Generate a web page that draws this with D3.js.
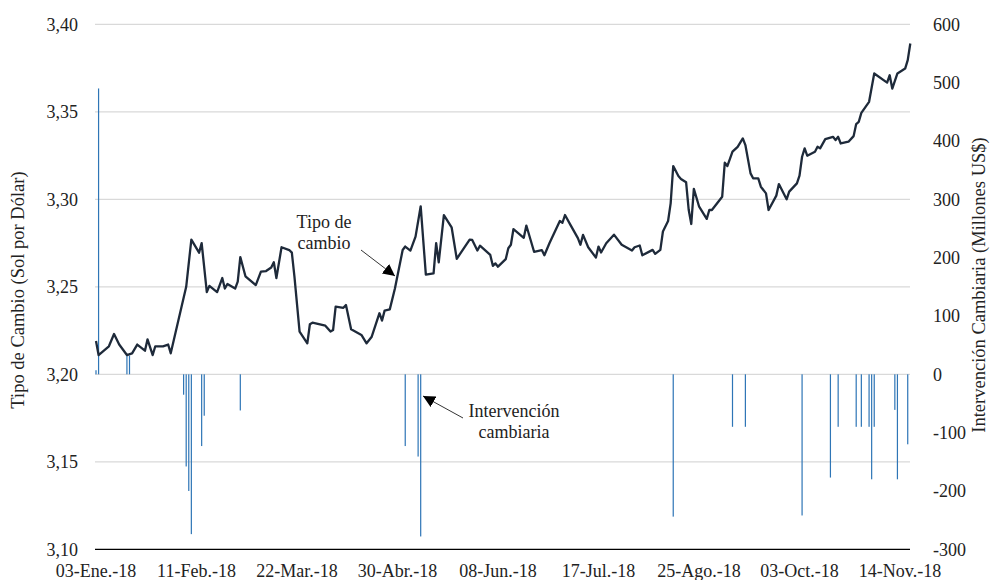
<!DOCTYPE html>
<html>
<head>
<meta charset="utf-8">
<script src="https://cdn.jsdelivr.net/npm/d3@7"></script>
<style>
  body { margin: 0; background: #fff; }
  svg text { font-family: "Liberation Serif", "DejaVu Serif", serif; fill: #222; }
</style>
</head>
<body>
<div id="chart"></div>
<script>
// Etiquetas del eje X (días desde 03-Ene.-18)
var etiquetasX = ["03-Ene.-18", "11-Feb.-18", "22-Mar.-18", "30-Abr.-18", "08-Jun.-18",
                  "17-Jul.-18", "25-Ago.-18", "03-Oct.-18", "14-Nov.-18"];
var diasEtiqueta = [0, 39, 78, 117, 156, 195, 234, 273, 312];

// Tipo de cambio (Sol por Dólar)
var diasTC = [0,1,5,7,9,12,14,16,19,20,22,23,26,28,29,35,37,40,41,43,44,47,49,50,51,54,55,56,58,62,
  64,66,68,69,70,72,75,76,77,79,82,83,84,89,91,92,93,96,97,99,103,105,107,110,111,112,114,116,119,120,
  122,124,126,128,131,132,133,135,138,140,145,146,148,149,153,154,155,156,159,160,161,162,166,167,170,
  173,174,176,180,181,182,184,187,188,189,191,194,195,196,198,201,204,208,209,211,212,216,217,219,220,
  222,223,224,226,227,229,230,231,232,234,237,238,239,243,244,245,247,249,251,252,254,255,257,258,260,
  261,264,265,268,269,272,273,274,275,276,279,280,281,283,286,287,288,289,292,294,295,296,297,300,302,
  307,308,309,311,314,315,316];
var tipoCambio = [3.219,3.211,3.216,3.223,3.217,3.211,3.212,3.217,3.2135,3.220,3.211,3.216,3.216,3.217,3.212,
  3.250,3.277,3.2695,3.275,3.247,3.2505,3.247,3.255,3.249,3.2516,3.249,3.253,3.267,3.256,3.251,
  3.2587,3.259,3.261,3.264,3.255,3.2726,3.271,3.2695,3.256,3.2244,3.2177,3.2286,3.2295,3.2278,3.2244,
  3.2253,3.2387,3.238,3.2396,3.2257,3.2225,3.2177,3.2215,3.2349,3.2307,3.2364,3.2371,3.249,3.271,3.273,
  3.2707,3.2787,3.296,3.257,3.2577,3.275,3.264,3.291,3.284,3.266,3.277,3.2768,3.2707,3.2735,3.2682,
  3.262,3.2634,3.2615,3.2658,3.272,3.274,3.283,3.278,3.285,3.270,3.271,3.268,3.275,3.2876,3.2866,
  3.291,3.2857,3.2778,3.274,3.2797,3.2726,3.2667,3.273,3.2696,3.2749,3.2798,3.274,3.2707,3.2726,3.2736,
  3.268,3.2711,3.2688,3.2711,3.2816,3.2876,3.2977,3.319,3.3133,3.3116,3.3097,3.294,3.2859,3.306,3.296,
  3.2888,3.2939,3.2939,3.3015,3.3209,3.319,3.3272,3.330,3.3348,3.331,3.3148,3.312,3.312,3.3072,3.3034,
  3.2939,3.3021,3.3087,3.300,3.3044,3.3091,3.3135,3.3243,3.3291,3.3249,3.3272,3.330,3.3291,3.3344,3.3357,
  3.3338,3.3357,3.3319,3.3329,3.3361,3.343,3.3443,3.3494,3.3557,3.3719,3.3667,3.3709,3.3633,3.3719,3.3747,
  3.3795,3.389];

// Intervención cambiaria (Millones US$)
var diasInt = [0,1,12,13,34,35,36,37,41,42,56,120,125,126,224,247,252,274,285,288,295,297,300,301,302,310,311,315];
var intervencion = [7,490,32,32,-35,-158,-200,-274,-123,-71,-62,-123,-141,-278,-244,-90,-90,-242,-177,
  -90,-90,-90,-90,-180,-90,-61,-180,-120];

var ticksIzq = [3.10, 3.15, 3.20, 3.25, 3.30, 3.35, 3.40];
var ticksDer = [-300, -200, -100, 0, 100, 200, 300, 400, 500, 600];

var width = 990, height = 580;
var plotLeft = 95, plotRight = 910, plotTop = 24.3, plotBottom = 549.3;

var svg = d3.select("#chart").append("svg")
    .attr("width", width)
    .attr("height", height);

var x = d3.scaleLinear().domain([0, 312]).range([96, 900]);
var yIzq = d3.scaleLinear().domain([3.10, 3.40]).range([plotBottom, plotTop]);
var yDer = d3.scaleLinear().domain([-300, 600]).range([plotBottom, plotTop]);

// gridlines
svg.append("g")
    .selectAll("line")
    .data(ticksIzq.filter(function(d) { return d > 3.10; }))
  .enter().append("line")
    .attr("x1", plotLeft).attr("x2", plotRight)
    .attr("y1", function(d) { return yIzq(d); })
    .attr("y2", function(d) { return yIzq(d); })
    .attr("stroke", "#d9d9d9")
    .attr("stroke-width", 1.3);

// bars
svg.append("g")
    .selectAll("rect")
    .data(diasInt.map(function(d, i) { return { dia: d, v: intervencion[i] }; }))
  .enter().append("rect")
    .attr("x", function(d) { return x(d.dia) - 0.6; })
    .attr("width", 1.2)
    .attr("y", function(d) { return yDer(Math.max(0, d.v)); })
    .attr("height", function(d) { return Math.abs(yDer(d.v) - yDer(0)); })
    .attr("fill", "#2e75b6");

// axis line
svg.append("line")
    .attr("x1", plotLeft).attr("x2", plotRight)
    .attr("y1", plotBottom).attr("y2", plotBottom)
    .attr("stroke", "#000")
    .attr("stroke-width", 1.3);

// exchange rate line
var linea = d3.line()
    .x(function(d) { return x(d[0]); })
    .y(function(d) { return yIzq(d[1]); });

svg.append("path")
    .datum(diasTC.map(function(d, i) { return [d, tipoCambio[i]]; }))
    .attr("d", linea)
    .attr("fill", "none")
    .attr("stroke", "#1e2a3a")
    .attr("stroke-width", 2.3)
    .attr("stroke-linejoin", "round");

// left ticks
var fmt = function(d) { return d3.format(".2f")(d).replace(".", ","); };
svg.append("g")
    .selectAll("text")
    .data(ticksIzq)
  .enter().append("text")
    .attr("x", 78)
    .attr("y", function(d) { return yIzq(d); })
    .attr("dy", "0.35em")
    .attr("text-anchor", "end")
    .style("font-size", "18px")
    .text(fmt);

// right ticks
svg.append("g")
    .selectAll("text")
    .data(ticksDer)
  .enter().append("text")
    .attr("x", 933)
    .attr("y", function(d) { return yDer(d); })
    .attr("dy", "0.35em")
    .style("font-size", "18px")
    .text(function(d) { return d; });

// x labels
svg.append("g")
    .selectAll("text")
    .data(diasEtiqueta)
  .enter().append("text")
    .attr("x", function(d) { return x(d); })
    .attr("y", 577)
    .attr("text-anchor", "middle")
    .style("font-size", "18px")
    .text(function(d, i) { return etiquetasX[i]; });

// axis titles
svg.append("text")
    .attr("transform", "translate(24,290) rotate(-90)")
    .attr("text-anchor", "middle")
    .style("font-size", "18.5px")
    .text("Tipo de Cambio (Sol por Dólar)");

svg.append("text")
    .attr("transform", "translate(985,285) rotate(-90)")
    .attr("text-anchor", "middle")
    .style("font-size", "18.5px")
    .text("Intervención Cambiaria (Millones US$)");

// annotations
svg.append("defs").append("marker")
    .attr("id", "flecha")
    .attr("viewBox", "0 0 10 10")
    .attr("refX", 10).attr("refY", 5)
    .attr("markerWidth", 12).attr("markerHeight", 12)
    .attr("markerUnits", "userSpaceOnUse")
    .attr("orient", "auto")
  .append("path")
    .attr("d", "M0,0 L10,5 L0,10 Z")
    .attr("fill", "#000");

svg.append("line")
    .attr("x1", 361).attr("y1", 250)
    .attr("x2", 395).attr("y2", 276)
    .attr("stroke", "#000").attr("stroke-width", 0.8)
    .attr("marker-end", "url(#flecha)");

svg.append("line")
    .attr("x1", 463).attr("y1", 418)
    .attr("x2", 423).attr("y2", 396)
    .attr("stroke", "#000").attr("stroke-width", 0.8)
    .attr("marker-end", "url(#flecha)");

var nota1 = svg.append("text").attr("text-anchor", "middle").style("font-size", "18px");
nota1.append("tspan").attr("x", 324).attr("y", 228).text("Tipo de");
nota1.append("tspan").attr("x", 324).attr("y", 249).text("cambio");

var nota2 = svg.append("text").attr("text-anchor", "middle").style("font-size", "18px");
nota2.append("tspan").attr("x", 514).attr("y", 417).text("Intervención");
nota2.append("tspan").attr("x", 514).attr("y", 438).text("cambiaria");
</script>
</body>
</html>
